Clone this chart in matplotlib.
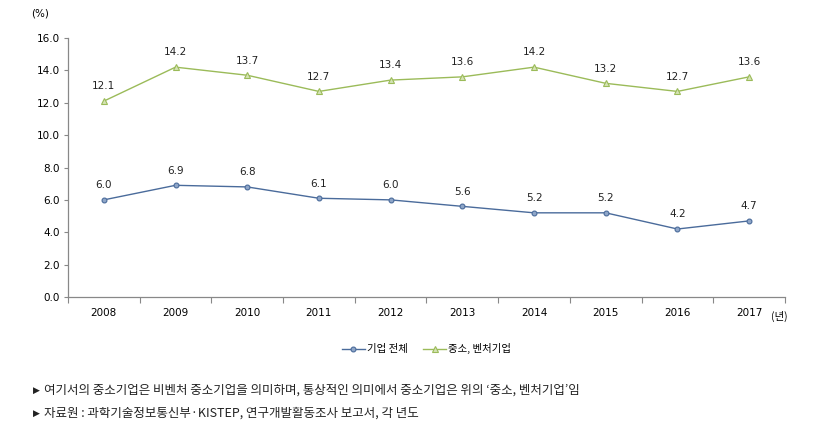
import numpy as np
import matplotlib.pyplot as plt
from matplotlib.ticker import FixedLocator

plt.rcParams['font.family'] = ['Noto Sans CJK KR', 'DejaVu Sans']

years = ['2008', '2009', '2010', '2011', '2012', '2013', '2014', '2015', '2016', '2017']
all_firms = [6.0, 6.9, 6.8, 6.1, 6.0, 5.6, 5.2, 5.2, 4.2, 4.7]
sme_venture = [12.1, 14.2, 13.7, 12.7, 13.4, 13.6, 14.2, 13.2, 12.7, 13.6]
yticks = [0, 2, 4, 6, 8, 10, 12, 14, 16]
notes = ['여기서의 중소기업은 비벤처 중소기업을 의미하며, 통상적인 의미에서 중소기업은 위의 ‘중소, 벤처기업’임',
         '자료원 : 과학기술정보통신부·KISTEP, 연구개발활동조사 보고서, 각 년도']

blue = '#4a6b9b'
green = '#9bbb59'
num_font = ['DejaVu Sans']

fig = plt.figure(figsize=(8.39, 4.29), dpi=100)
ax = fig.add_axes([0.081, 0.3077, 0.8546, 0.6037])

x = np.arange(len(years))
ax.plot(x, all_firms, color=blue, lw=1.0, marker='o', ms=3.5,
        mfc='#8fa6c8', mec=blue, mew=0.8, label='기업 전체')
ax.plot(x, sme_venture, color=green, lw=1.0, marker='^', ms=4.5,
        mfc='#d5e3b5', mec=green, mew=0.8, label='중소, 벤처기업')

for series in (all_firms, sme_venture):
    for xi, v in zip(x, series):
        ax.annotate(f'{v:.1f}', (xi, v), xytext=(0, 7), textcoords='offset points',
                    ha='center', va='bottom', fontsize=7.5, family=num_font, color='#222222')

ax.set_xlim(-0.5, len(years) - 0.5)
ax.set_ylim(0, 16)
ax.set_yticks(yticks)
ax.set_yticklabels([f'{t:.1f}' for t in yticks], family=num_font, fontsize=7.5)
ax.set_xticks(x)
ax.set_xticklabels(years, family=num_font, fontsize=7.5)
ax.xaxis.set_minor_locator(FixedLocator(np.arange(-0.5, len(years), 1.0)))
ax.tick_params(axis='x', which='major', length=0, pad=8)
ax.tick_params(axis='x', which='minor', length=4, color='#888888', width=0.8)
ax.tick_params(axis='y', length=3, color='#888888', width=0.8, pad=3)

for s in ['top', 'right']:
    ax.spines[s].set_visible(False)
for s in ['left', 'bottom']:
    ax.spines[s].set_color('#888888')
    ax.spines[s].set_linewidth(0.9)

fig.text(40 / 839, 1 - 14 / 429, '(%)', fontsize=7.5, ha='center', va='center', family=num_font)
fig.text(779 / 839, 1 - 316 / 429, '(년)', fontsize=7.5, ha='center', va='center')

ax.legend(loc='center', bbox_to_anchor=(0.5, -0.2), ncol=2, frameon=False,
          fontsize=7.5, handlelength=2.2, columnspacing=1.5, handletextpad=0.2)

for i, note in enumerate(notes):
    yy = 1 - (390 + 23 * i) / 429
    fig.text(33 / 839, yy, '▶', fontsize=6.5, va='center', ha='left',
             color='#222222', family=['DejaVu Sans'])
    fig.text(44 / 839, yy, note, fontsize=9, va='center', ha='left', color='#222222')

fig.savefig('out.png', dpi=100)
